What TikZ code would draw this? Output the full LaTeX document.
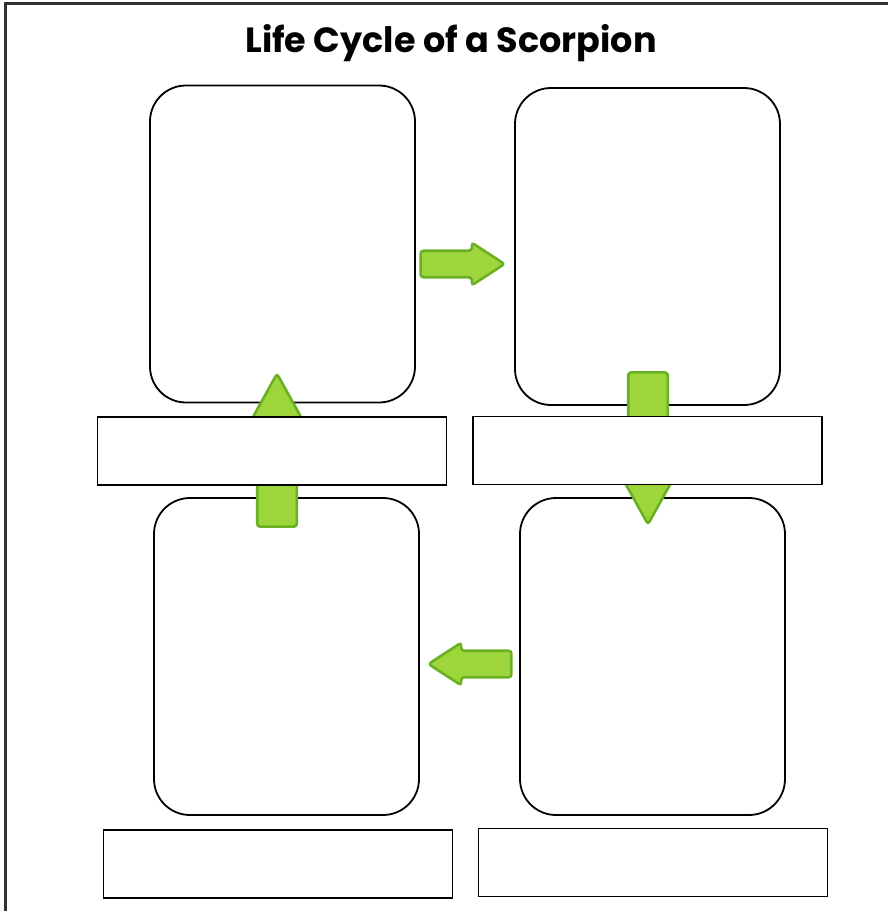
\documentclass[tikz,border=0pt]{standalone}
\usepackage{fontspec}
\setmainfont{Poppins}
\usetikzlibrary{shapes.arrows,positioning}
\definecolor{arrowfill}{RGB}{156,214,58}
\definecolor{arrowline}{RGB}{106,176,36}
\definecolor{framegray}{RGB}{50,50,50}

\begin{document}
\begin{tikzpicture}[
    x=1pt, y=-1pt,
    picbox/.style={rectangle, draw, line width=1.8pt, rounded corners=36pt, minimum width=265pt, minimum height=317pt},
    namebox/.style={rectangle, draw, line width=1.8pt, fill=white, minimum width=349pt, minimum height=68pt},
    bigarrow/.style={single arrow, anchor=tip, draw=arrowline, fill=arrowfill, line width=2.6pt, rounded corners=3pt, inner sep=12pt, single arrow head extend=8pt, single arrow tip angle=66},
    uparrow/.style={bigarrow, inner sep=18.5pt, single arrow head extend=5pt, single arrow tip angle=58}
]
    \clip (0,0) rectangle (888,911);
    \draw[framegray, line width=3pt] (5.5,3.5) rectangle (900,925);

    \node[font=\bfseries\fontsize{35}{40}\selectfont] (title) at (451,43) {Life Cycle of a Scorpion};

    % picture boxes
    \node[picbox] (tl) at (282.5,244) {};
    \node[picbox] (tr) at (647.5,246.5) {};
    \node[picbox] (bl) at (286.5,656.5) {};
    \node[picbox] (br) at (652.5,656.5) {};

    % arrows round the cycle
    \node[bigarrow, minimum height=84pt] (tltotr) at (507,264) {};
    \node[uparrow, minimum height=152pt, shape border rotate=270] (trtobr) at (648,527) {};
    \node[bigarrow, minimum height=83pt, shape border rotate=180] (brtobl) at (426,664) {};
    \node[uparrow, minimum height=153pt, shape border rotate=90] (bltotl) at (277,371) {};

    % name boxes
    \node[namebox] (tlname) at (272,451) {};
    \node[namebox] (trname) at (647.5,450.5) {};
    \node[namebox] (blname) at (278,864) {};
    \node[namebox] (brname) at (653,862.5) {};
\end{tikzpicture}
\end{document}
